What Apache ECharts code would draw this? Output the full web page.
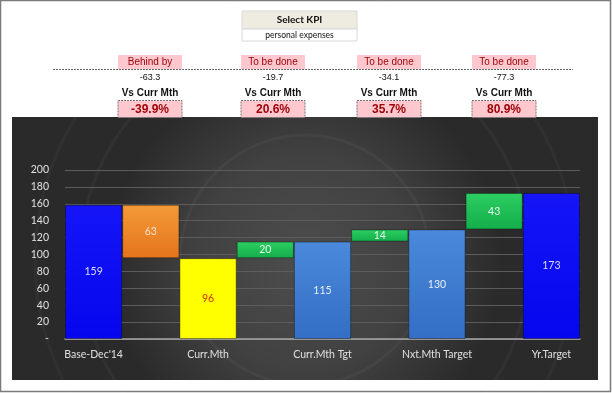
<!DOCTYPE html>
<html><head><meta charset="utf-8">
<script src="https://cdn.jsdelivr.net/npm/echarts@6/dist/echarts.min.js"></script>
<style>html,body{margin:0;padding:0;background:#fff}#c{width:612px;height:393px}</style>
</head><body><div id="c"></div>
<script>
const categories = ["Base-Dec'14", "", "Curr.Mth", "", "Curr.Mth Tgt", "", "Nxt.Mth Target", "", "Yr.Target"];
const baseValues = [0, 95.6, 0, 95.6, 0, 115.3, 0, 129.7, 0];
const barValues = [158.9, 63.3, 95.6, 19.7, 115.3, 14.4, 129.7, 43.2, 172.9];
const barColors = [['#1515f8', '#0606ee'], ['#f49a38', '#e4741c'], ['#ffff00', '#ffff00'], ['#2ccf62', '#14ad4a'], ['#4a89dc', '#336fc4'], ['#2ccf62', '#14ad4a'], ['#4a89dc', '#336fc4'], ['#2ccf62', '#14ad4a'], ['#1515f8', '#0606ee']];
const labelColors = ['#dcdcff', '#f7e0c8', '#d03000', '#e6f6ea', '#e8eef8', '#e6f6ea', '#e8eef8', '#e6f6ea', '#dcdcff'];
const yTicks = [0, 20, 40, 60, 80, 100, 120, 140, 160, 180, 200];

const kpiHeaders = ['Behind by', 'To be done', 'To be done', 'To be done'];
const kpiValues = ['-63.3', '-19.7', '-34.1', '-77.3'];
const kpiPercents = ['-39.9%', '20.6%', '35.7%', '80.9%'];
const kpiCenters = [150, 273, 389, 504];

const chart = echarts.init(document.getElementById('c'), null, {renderer: 'canvas'});
const narrow = "'Liberation Sans Narrow', 'Liberation Sans', Arial, sans-serif";
const graphics = [
  {type: 'rect', shape: {x: 0.5, y: 0.5, width: 610, height: 391}, style: {fill: '#fff', stroke: '#7a7a7a', lineWidth: 1.5}, z: -10},
  {type: 'rect', shape: {x: 12, y: 117, width: 586, height: 263},
   style: {fill: new echarts.graphic.RadialGradient(0.5, 0.55, 0.75, [{offset: 0, color: '#4d4d4d'}, {offset: 0.55, color: '#414141'}, {offset: 1, color: '#2a2a2a'}])}, z: -5},
  {type: 'circle', shape: {cx: 305, cy: 260, r: 125}, style: {fill: 'none', stroke: 'rgba(255,255,255,0.04)', lineWidth: 3}, z: -4},
  {type: 'circle', shape: {cx: 305, cy: 260, r: 225}, style: {fill: 'none', stroke: 'rgba(255,255,255,0.035)', lineWidth: 3}, z: -4},
  {type: 'circle', shape: {cx: 305, cy: 260, r: 270}, style: {fill: 'none', stroke: 'rgba(255,255,255,0.03)', lineWidth: 3}, z: -4},
  {type: 'rect', shape: {x: 242, y: 11, width: 115, height: 18}, style: {fill: '#eeece1', stroke: '#d8d8d8', lineWidth: 1}},
  {type: 'rect', shape: {x: 242, y: 29, width: 115, height: 12}, style: {fill: '#fff', stroke: '#d8d8d8', lineWidth: 1}},
  {type: 'text', x: 299.5, y: 20, style: {text: 'Select KPI', fontFamily: 'Lato, sans-serif', fontWeight: 'bold', fontSize: 10, fill: '#111', align: 'center', verticalAlign: 'middle'}},
  {type: 'text', x: 299.5, y: 35, style: {text: 'personal expenses', fontFamily: 'Lato, sans-serif', fontSize: 8.5, fill: '#111', align: 'center', verticalAlign: 'middle'}},
  {type: 'line', shape: {x1: 53, y1: 69.5, x2: 573, y2: 69.5}, style: {stroke: '#666', lineWidth: 1, lineDash: [2, 1]}}
];
kpiCenters.forEach((cx, i) => {
  graphics.push(
    {type: 'rect', shape: {x: cx - 32, y: 55, width: 64, height: 14}, style: {fill: '#ffc7ce'}},
    {type: 'text', x: cx, y: 62.5, style: {text: kpiHeaders[i], fontFamily: narrow, fontSize: 10, fill: '#9c0006', align: 'center', verticalAlign: 'middle'}},
    {type: 'text', x: cx, y: 78, style: {text: kpiValues[i], fontFamily: narrow, fontSize: 9, fill: '#111', align: 'center', verticalAlign: 'middle'}},
    {type: 'text', x: cx, y: 93, style: {text: 'Vs Curr Mth', fontFamily: narrow, fontWeight: 'bold', fontSize: 10, fill: '#111', align: 'center', verticalAlign: 'middle'}},
    {type: 'rect', shape: {x: cx - 32, y: 100.5, width: 64, height: 17}, style: {fill: '#ffc7ce', stroke: '#777', lineWidth: 1, lineDash: [2, 1]}},
    {type: 'text', x: cx, y: 109.5, style: {text: kpiPercents[i], fontFamily: "'Liberation Sans', Arial, sans-serif", fontWeight: 'bold', fontSize: 12, fill: '#9c0006', align: 'center', verticalAlign: 'middle'}}
  );
});

const option = {
  animation: false,
  backgroundColor: 'transparent',
  graphic: {elements: graphics},
  grid: {left: 65, right: 32, top: 170, bottom: 54},
  xAxis: {
    type: 'category', data: categories,
    axisLine: {lineStyle: {color: '#a8a8a8', width: 1.5}},
    axisTick: {show: false},
    axisLabel: {interval: 0, color: '#e0e0e0', fontFamily: 'Lato, sans-serif', fontSize: 10.5, margin: 10}
  },
  yAxis: {
    type: 'value', min: yTicks[0], max: yTicks[yTicks.length - 1], interval: 20,
    axisLine: {show: false}, axisTick: {show: false},
    splitLine: {lineStyle: {color: '#5c5c5c', width: 1}},
    axisLabel: {color: '#e0e0e0', fontFamily: 'Lato, sans-serif', fontSize: 10.5, margin: 16,
      formatter: v => v === 0 ? '-' : String(v)}
  },
  series: [
    {type: 'bar', stack: 'w', data: baseValues, itemStyle: {color: 'transparent'}, barCategoryGap: '0%', silent: true},
    {type: 'bar', stack: 'w', barCategoryGap: '0%',
     data: barValues.map((v, i) => ({value: v,
       itemStyle: {color: new echarts.graphic.LinearGradient(0, 0, 0, 1, [{offset: 0, color: barColors[i][0]}, {offset: 1, color: barColors[i][1]}])},
       label: {color: labelColors[i]}})),
     itemStyle: {borderColor: 'rgba(0,0,0,0.35)', borderWidth: 1},
     label: {show: true, position: 'inside', fontFamily: 'Lato, sans-serif', fontSize: 10.5, formatter: p => Math.round(p.value)}}
  ]
};
chart.setOption(option);
</script>
</body></html>
